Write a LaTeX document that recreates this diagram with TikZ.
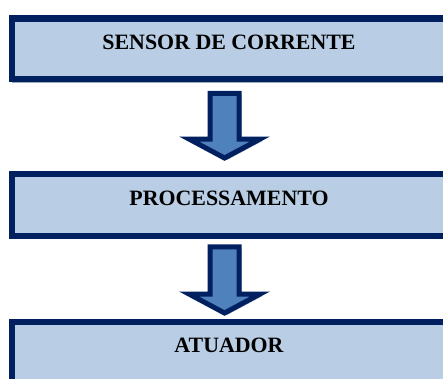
\documentclass[tikz,border=0pt]{standalone}
\usepackage{fontspec}
\setmainfont{Liberation Serif}
\usetikzlibrary{calc,shadows}
\definecolor{navy}{RGB}{0,32,96}
\definecolor{boxfill}{RGB}{185,205,229}
\definecolor{arrowfill}{RGB}{79,129,189}
\definecolor{shade}{RGB}{160,170,185}
\tikzset{
  stagebox/.style={draw=navy, fill=boxfill, line width=6.3pt, rectangle,
    inner sep=0pt, anchor=north, minimum width=434.6pt,
    text height=31pt, font=\fontsize{21.9}{26}\selectfont\bfseries,
    drop shadow={shadow xshift=0.5pt, shadow yshift=-3.5pt, fill=shade, opacity=1}},
  blockarrow/.style={draw=navy, fill=arrowfill, line width=5pt, line join=miter,
    drop shadow={shadow xshift=2.5pt, shadow yshift=-2pt, fill=shade, opacity=1}}
}
\newcommand\flowarrow[2]{%
  \path[blockarrow] let \p1=(#1), \p2=(#2) in
    (\x1-14.5pt,\y1) -- (\x1+14.5pt,\y1) -- (\x1+14.5pt,\y2+19pt) --
    (\x1+35.5pt,\y2+19pt) -- (\x1,\y2) -- (\x1-35.5pt,\y2+19pt) --
    (\x1-14.5pt,\y2+19pt) -- cycle;}
\begin{document}
\begin{tikzpicture}[x=1pt,y=-1pt]
\useasboundingbox (0,0) rectangle (443,378);
\node[stagebox, minimum height=60.7pt, text depth=29.7pt] (b1) at (229,15.3) {SENSOR DE CORRENTE};
\node[stagebox, minimum height=61.5pt, text depth=30.5pt] (b2) at (229,171) {PROCESSAMENTO};
\node[stagebox, minimum height=61pt, text depth=30pt] (b3) at (229,318.5) {ATUADOR};
\coordinate (t1) at ($(b1.south)+(-4.5,11)$);
\coordinate (p1) at ($(b2.north)+(-4.5,-13)$);
\coordinate (t2) at ($(b2.south)+(-4.5,8)$);
\coordinate (p2) at ($(b3.north)+(-4.5,-5.5)$);
\flowarrow{t1}{p1}
\flowarrow{t2}{p2}
\end{tikzpicture}
\end{document}
